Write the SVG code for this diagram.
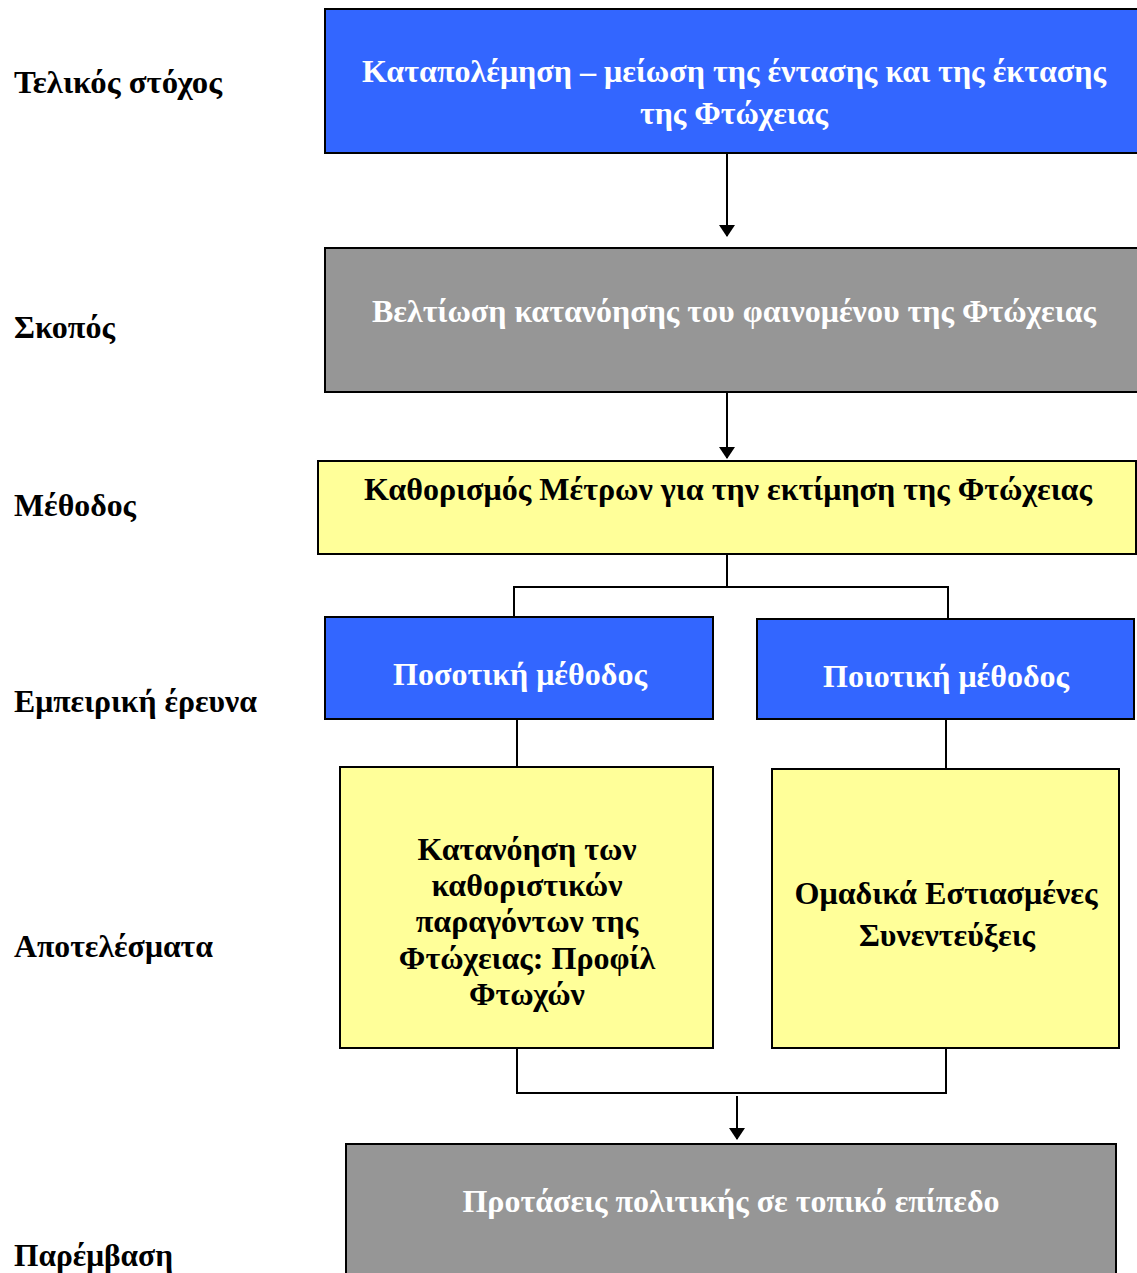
<svg xmlns="http://www.w3.org/2000/svg" width="1137" height="1273" viewBox="0 0 1137 1273">
<style>
.blue{fill:#3366FF;stroke:#000;stroke-width:2}
.gray{fill:#969696;stroke:#000;stroke-width:2}
.yel{fill:#FFFF99;stroke:#000;stroke-width:2}
.wt{font-family:"Liberation Serif",serif;font-weight:bold;font-size:32px;fill:#fff;text-anchor:middle}
.bt{font-family:"Liberation Serif",serif;font-weight:bold;font-size:32px;fill:#000;text-anchor:middle}
.lab{font-family:"Liberation Serif",serif;font-weight:bold;font-size:31px;fill:#000}
.ln{fill:none;stroke:#000;stroke-width:2}
</style>
<defs>
<marker id="ah" markerWidth="12" markerHeight="16" refX="11" refY="8" orient="auto" markerUnits="userSpaceOnUse">
<path d="M0,0 L12,8 L0,16 Z" fill="#000" transform="translate(0,0)"/>
</marker>
</defs>
<rect width="1137" height="1273" fill="#fff"/>
<g id="labels">
<text class="lab" x="14" y="93" textLength="208" lengthAdjust="spacingAndGlyphs">Τελικός στόχος</text>
<text class="lab" x="14" y="338" textLength="101" lengthAdjust="spacingAndGlyphs">Σκοπός</text>
<text class="lab" x="14" y="516" textLength="122" lengthAdjust="spacingAndGlyphs">Μέθοδος</text>
<text class="lab" x="14" y="712" textLength="243" lengthAdjust="spacingAndGlyphs">Εμπειρική έρευνα</text>
<text class="lab" x="14" y="957" textLength="199" lengthAdjust="spacingAndGlyphs">Αποτελέσματα</text>
<text class="lab" x="14" y="1266" textLength="159" lengthAdjust="spacingAndGlyphs">Παρέμβαση</text>
</g>
<g id="connectors">
<line class="ln" x1="727" y1="153" x2="727" y2="236" marker-end="url(#ah)"/>
<line class="ln" x1="727" y1="392" x2="727" y2="458" marker-end="url(#ah)"/>
<polyline class="ln" points="727,554 727,587"/>
<polyline class="ln" points="514,617 514,587 948,587 948,619"/>
<line class="ln" x1="517" y1="719" x2="517" y2="767"/>
<line class="ln" x1="946" y1="719" x2="946" y2="769"/>
<polyline class="ln" points="517,1048 517,1093 946,1093 946,1048"/>
<line class="ln" x1="737" y1="1096" x2="737" y2="1139" marker-end="url(#ah)"/>
</g>
<g id="goal">
<rect class="blue" x="325" y="9" width="814" height="144"/>
<text class="wt" x="734" y="82" textLength="744" lengthAdjust="spacingAndGlyphs">Καταπολέμηση – μείωση της έντασης και της έκτασης</text>
<text class="wt" x="734" y="124" textLength="188" lengthAdjust="spacingAndGlyphs">της Φτώχειας</text>
</g>
<g id="purpose">
<rect class="gray" x="325" y="248" width="814" height="144"/>
<text class="wt" x="734" y="322" textLength="724" lengthAdjust="spacingAndGlyphs">Βελτίωση κατανόησης του φαινομένου της Φτώχειας</text>
</g>
<g id="method">
<rect class="yel" x="318" y="461" width="818" height="93"/>
<text class="bt" x="728" y="500" textLength="728" lengthAdjust="spacingAndGlyphs">Καθορισμός Μέτρων για την εκτίμηση της Φτώχειας</text>
</g>
<g id="quant">
<rect class="blue" x="325" y="617" width="388" height="102"/>
<text class="wt" x="520" y="685" textLength="254" lengthAdjust="spacingAndGlyphs">Ποσοτική μέθοδος</text>
</g>
<g id="qual">
<rect class="blue" x="757" y="619" width="377" height="100"/>
<text class="wt" x="946" y="687" textLength="246" lengthAdjust="spacingAndGlyphs">Ποιοτική μέθοδος</text>
</g>
<g id="result-quant">
<rect class="yel" x="340" y="767" width="373" height="281"/>
<text class="bt" x="527" y="860">Κατανόηση των</text>
<text class="bt" x="527" y="896">καθοριστικών</text>
<text class="bt" x="527" y="932">παραγόντων της</text>
<text class="bt" x="527" y="969">Φτώχειας: Προφίλ</text>
<text class="bt" x="527" y="1005">Φτωχών</text>
</g>
<g id="result-qual">
<rect class="yel" x="772" y="769" width="347" height="279"/>
<text class="bt" x="946" y="904" textLength="303" lengthAdjust="spacingAndGlyphs">Ομαδικά Εστιασμένες</text>
<text class="bt" x="947" y="946">Συνεντεύξεις</text>
</g>
<g id="intervention">
<rect class="gray" x="346" y="1144" width="770" height="140"/>
<text class="wt" x="731" y="1212" textLength="537" lengthAdjust="spacingAndGlyphs">Προτάσεις πολιτικής σε τοπικό επίπεδο</text>
</g>
</svg>
